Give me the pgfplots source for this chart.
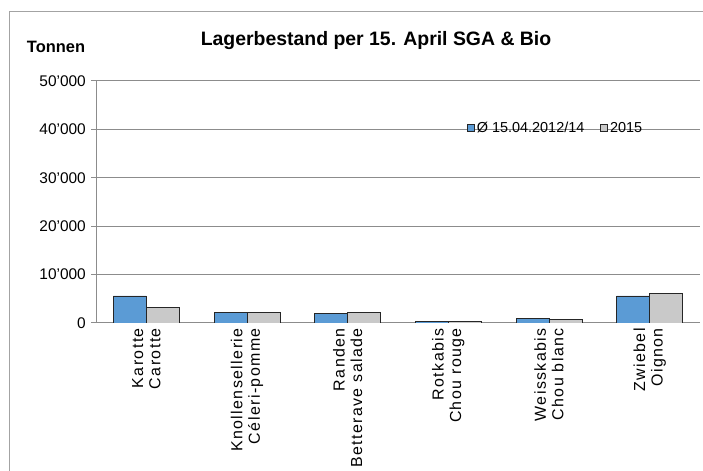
\documentclass[border=0pt]{standalone}
\usepackage{fontspec}
\setmainfont{Liberation Sans}
\usepackage{pgfplots}
\pgfplotsset{compat=1.18}
\definecolor{barblue}{HTML}{5B9BD5}
\definecolor{bargrey}{HTML}{C9C9C9}
\definecolor{gridgrey}{HTML}{8C8C8C}
\pgfplotstableread{
x a b
0 5580 3170
1 2130 2130
2 1920 2130
3 410 390
4 970 760
5 5580 6130
}\lagerdata
\begin{document}
\begin{tikzpicture}[x=1bp,y=1bp]
\useasboundingbox (0,0) rectangle (703,471);
\draw[gridgrey!80, line width=1bp] (9.5,0) -- (9.5,459) -- (703,459);
\node[font=\bfseries\fontsize{19.5}{22}\selectfont] at (376,430) {Lagerbestand per 15. April SGA \& Bio};
\node[font=\bfseries\fontsize{16.5}{18}\selectfont] at (56,424) {Tonnen};
\begin{axis}[
  at={(96bp,148bp)}, anchor=south west, scale only axis,
  width=604bp, height=242bp,
  xmin=-0.5, xmax=5.5, ymin=0, ymax=50000,
  scaled y ticks=false,
  axis x line*=bottom, axis y line*=left,
  axis line style={gridgrey, line width=1bp},
  ybar=0bp, bar width=33bp,
  ytick={0,10000,20000,30000,40000,50000},
  yticklabels={0,10'000,20'000,30'000,40'000,50'000},
  ymajorgrids, grid style={gridgrey, line width=1bp},
  xtick={0,1,2,3,4,5},
  xticklabels={{Karotte\\Carotte},{Knollensellerie\\Céleri-pomme},{Randen\\Betterave salade},{Rotkabis\\Chou rouge},{Weisskabis\\Chou blanc},{Zwiebel\\Oignon}},
  minor xtick={-0.5,0.5,1.5,2.5,3.5,4.5,5.5},
  tick align=outside, major tick length=5bp, minor tick length=5bp,
  tick style={gridgrey, line width=1bp},
  xtick style={draw=none},
  minor tick style={gridgrey, line width=1bp},
  xticklabel style={rotate=90, anchor=east, align=right, inner sep=0pt,
    font=\fontsize{16}{17.5}\selectfont\addfontfeature{LetterSpace=9}},
  yticklabel style={anchor=east, inner sep=0pt, xshift=-5bp,
    font=\fontsize{15.5}{17}\selectfont},
  legend style={at={(0.614,0.806)}, anchor=west, draw=none, fill=none,
    inner sep=0pt, font=\fontsize{14.5}{16}\selectfont,
    nodes={inner sep=2bp},
    /tikz/every even column/.append style={column sep=14bp}},
  legend columns=2,
  legend image code/.code={\draw[#1, line width=0.7bp] (0bp,-3.5bp) rectangle (7bp,3.5bp);},
]
\addplot[fill=barblue, draw=black!85, line width=0.8bp] table[x=x, y=a] {\lagerdata};
\addplot[fill=bargrey, draw=black!85, line width=0.8bp] table[x=x, y=b] {\lagerdata};
\legend{Ø 15.04.2012/14, 2015}
\end{axis}
\end{tikzpicture}
\end{document}
